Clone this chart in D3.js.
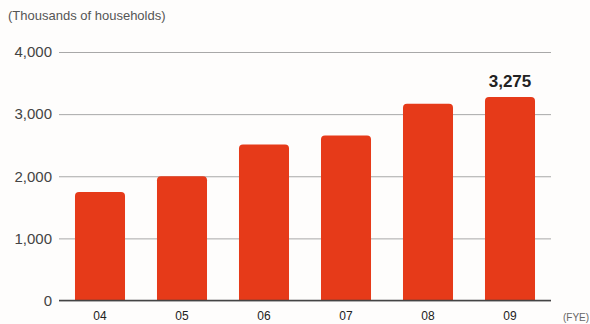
<!DOCTYPE html>
<html>
<head>
<meta charset="utf-8">
<script src="https://cdn.jsdelivr.net/npm/d3@7"></script>
<style>
  html, body { margin: 0; padding: 0; background: #fefdfc; }
  svg { display: block; font-family: "Liberation Sans", Arial, sans-serif; }
</style>
</head>
<body>
<svg id="chart" width="590" height="324"></svg>
<script>
// Households served, by fiscal year end
const years = ["04", "05", "06", "07", "08", "09"];
const households = [1745, 2000, 2510, 2655, 3165, 3275];
const yTicks = [0, 1000, 2000, 3000, 4000];
const labelledYear = "09";

const svg = d3.select("#chart");
const x = d3.scaleBand().domain(years).range([59, 551]).paddingInner(0.39).paddingOuter(0.195);
const y = d3.scaleLinear().domain([0, 4000]).range([300.5, 52]);

// unit caption
svg.append("text").attr("x", 8).attr("y", 20)
  .attr("font-size", 13).attr("fill", "#555").text("(Thousands of households)");

// gridlines + tick labels
const yAxis = d3.axisLeft(y).tickValues(yTicks).tickSize(-(551 - 59)).tickPadding(7)
  .tickFormat(d3.format(","));
const gy = svg.append("g").attr("transform", "translate(59,0)").call(yAxis);
gy.select(".domain").remove();
gy.selectAll(".tick line").attr("stroke", "#a8a8a8").attr("stroke-width", 1);
gy.selectAll(".tick text").attr("font-size", 15).attr("fill", "#444").attr("font-family", "Liberation Sans, Arial, sans-serif");

// bars with rounded tops
const r = 4;
svg.append("g").selectAll("path").data(years).join("path")
  .attr("fill", "#e63a19")
  .attr("d", (d, i) => {
    const x0 = x(d), w = x.bandwidth(), top = y(households[i]), base = y(0);
    return `M${x0},${base}V${top + r}Q${x0},${top} ${x0 + r},${top}H${x0 + w - r}Q${x0 + w},${top} ${x0 + w},${top + r}V${base}Z`;
  });

// baseline
svg.append("line").attr("x1", 59).attr("x2", 551).attr("y1", y(0)).attr("y2", y(0))
  .attr("stroke", "#444").attr("stroke-width", 1.5);

// category labels
const gx = svg.append("g").attr("transform", `translate(0,${y(0)})`)
  .call(d3.axisBottom(x).tickSize(0).tickPadding(11));
gx.select(".domain").remove();
gx.selectAll(".tick text").attr("font-size", 12).attr("fill", "#222").attr("font-family", "Liberation Sans, Arial, sans-serif");

svg.append("text").attr("x", 563).attr("y", 321)
  .attr("font-size", 10).attr("fill", "#666").text("(FYE)");

// value callout
const li = years.indexOf(labelledYear);
svg.append("text")
  .attr("x", x(labelledYear) + x.bandwidth() / 2).attr("y", y(households[li]) - 10)
  .attr("text-anchor", "middle").attr("font-size", 17).attr("font-weight", "bold")
  .attr("fill", "#222").text(d3.format(",")(households[li]));
</script>
</body>
</html>
